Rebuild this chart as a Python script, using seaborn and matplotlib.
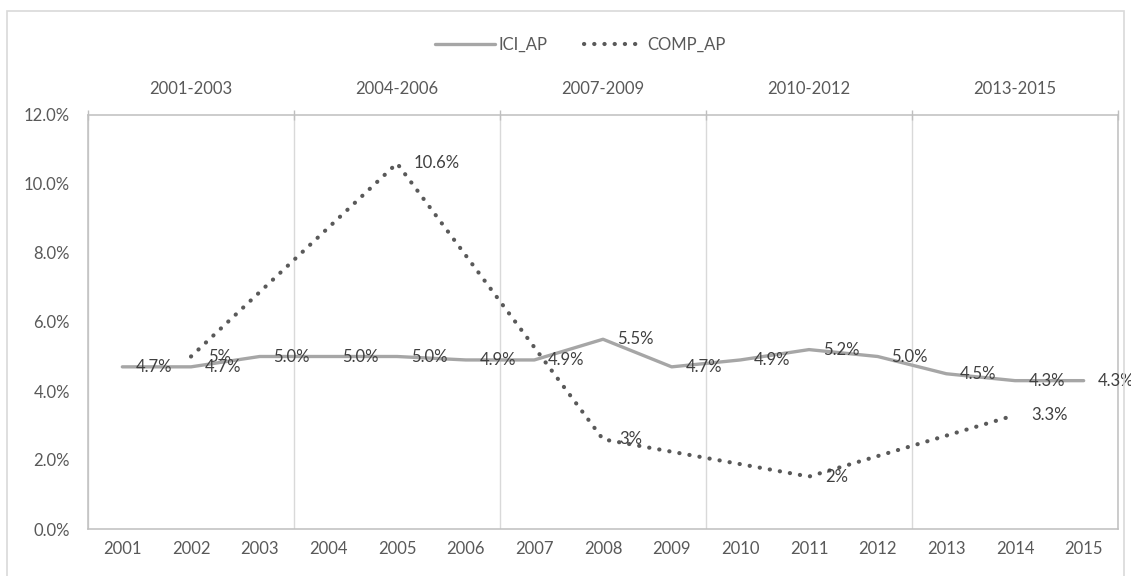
import matplotlib
matplotlib.use("Agg")
import matplotlib.pyplot as plt
from matplotlib.patches import Rectangle
from matplotlib.ticker import FixedLocator, FuncFormatter, NullFormatter
import numpy as np
import pandas as pd
import seaborn as sns

# Annual ICI_AP series
years = ["2001", "2002", "2003", "2004", "2005", "2006", "2007", "2008",
         "2009", "2010", "2011", "2012", "2013", "2014", "2015"]
ici_ap = [0.047, 0.047, 0.050, 0.050, 0.050, 0.049, 0.049, 0.055,
          0.047, 0.049, 0.052, 0.050, 0.045, 0.043, 0.043]

# Three-year COMP_AP series
periods = ["2001-2003", "2004-2006", "2007-2009", "2010-2012", "2013-2015"]
comp_ap = [0.050, 0.106, 0.026, 0.0152, 0.033]
comp_fmt = ["{:.0%}", "{:.1%}", "{:.0%}", "{:.0%}", "{:.1%}"]

y_ticks = [0.0, 0.02, 0.04, 0.06, 0.08, 0.10, 0.12]

sns.set_theme(style="white")
plt.rcParams["font.family"] = ["Lato", "DejaVu Sans"]

TEXT = "#595959"
LABEL = "#404040"
AXLINE = "#bfbfbf"
GRID = "#d9d9d9"
ICI_COLOR = "#a6a6a6"
COMP_COLOR = "#595959"
FS = 12

fig = plt.figure(figsize=(11.31, 5.76), dpi=100)
ax = fig.add_axes([88 / 1131, 1 - 529 / 576, (1118 - 88) / 1131, (529 - 115) / 576])
ax2 = ax.twiny()

df_ici = pd.DataFrame({"pos": np.arange(len(years)), "value": ici_ap})
df_comp = pd.DataFrame({"pos": np.arange(len(periods)), "value": comp_ap})

sns.lineplot(data=df_ici, x="pos", y="value", ax=ax, color=ICI_COLOR,
             linewidth=2.4, label="ICI_AP", legend=False)
sns.lineplot(data=df_comp, x="pos", y="value", ax=ax2, color=COMP_COLOR,
             linewidth=3.0, label="COMP_AP", legend=False)
comp_line = ax2.lines[-1]
comp_line.set_linestyle((0, (0.05, 2.4)))
comp_line.set_dash_capstyle("round")
ici_line = ax.lines[-1]
ici_line.set_solid_joinstyle("round")

# keep the annual series and its labels above the period grid
ax.set_zorder(ax2.get_zorder() + 1)
ax.patch.set_visible(False)

# bottom axis: one category per year
ax.set_xlim(-0.5, len(years) - 0.5)
ax.set_ylim(0, 0.12)
ax.set_xticks(np.arange(len(years)))
ax.set_xticklabels(years)
ax.set_yticks(y_ticks)
ax.yaxis.set_major_formatter(FuncFormatter(lambda v, _: f"{v:.1%}"))
ax.tick_params(axis="x", length=0, pad=9, labelsize=FS, labelcolor=TEXT)
ax.tick_params(axis="y", length=0, pad=13, labelsize=FS, labelcolor=TEXT)
ax.set_xlabel("")
ax.set_ylabel("")

# top axis: three-year periods, gridlines on period boundaries
ax2.set_xlim(-0.5, len(periods) - 0.5)
bounds = np.arange(len(periods) + 1) - 0.5
ax2.xaxis.set_major_locator(FixedLocator(bounds))
ax2.xaxis.set_major_formatter(NullFormatter())
ax2.xaxis.set_minor_locator(FixedLocator(np.arange(len(periods))))
ax2.set_xticklabels(periods, minor=True)
ax2.tick_params(axis="x", which="major", direction="inout", length=7,
                width=1, color=AXLINE)
ax2.tick_params(axis="x", which="minor", length=0, pad=13,
                labelsize=FS, labelcolor=TEXT)
ax2.grid(True, axis="x", which="major", color=GRID, linewidth=1)
ax2.set_xlabel("")
ax2.set_ylabel("")

for name, sp in ax.spines.items():
    sp.set_color(AXLINE)
    sp.set_linewidth(1.1)
    sp.set_visible(name != "top")
for name, sp in ax2.spines.items():
    sp.set_color(AXLINE)
    sp.set_linewidth(1.1)
    sp.set_visible(name == "top")

# value labels to the right of each point
for i, v in enumerate(ici_ap):
    ax.annotate(f"{v:.1%}", (i, v), xytext=(10, 0), textcoords="offset points",
                ha="left", va="center", fontsize=FS, color=LABEL)
for i, (v, f) in enumerate(zip(comp_ap, comp_fmt)):
    ax2.annotate(f.format(v), (i, v), xytext=(12, 0), textcoords="offset points",
                 ha="left", va="center", fontsize=FS, color=LABEL)

handles = [ici_line, comp_line]
fig.legend(handles, [h.get_label() for h in handles], loc="center",
           bbox_to_anchor=(0.513, 0.922), ncol=2, frameon=False,
           fontsize=FS, labelcolor=TEXT, handlelength=3.6,
           handletextpad=0.2, columnspacing=2.2)

# light chart frame
fig.patches.append(Rectangle((7 / 1131, -0.05), (1124 - 7) / 1131, 1.05 - 11 / 576,
                             transform=fig.transFigure, fill=False,
                             edgecolor=GRID, linewidth=1.2))

fig.savefig("out.png", dpi=100, facecolor="white")
